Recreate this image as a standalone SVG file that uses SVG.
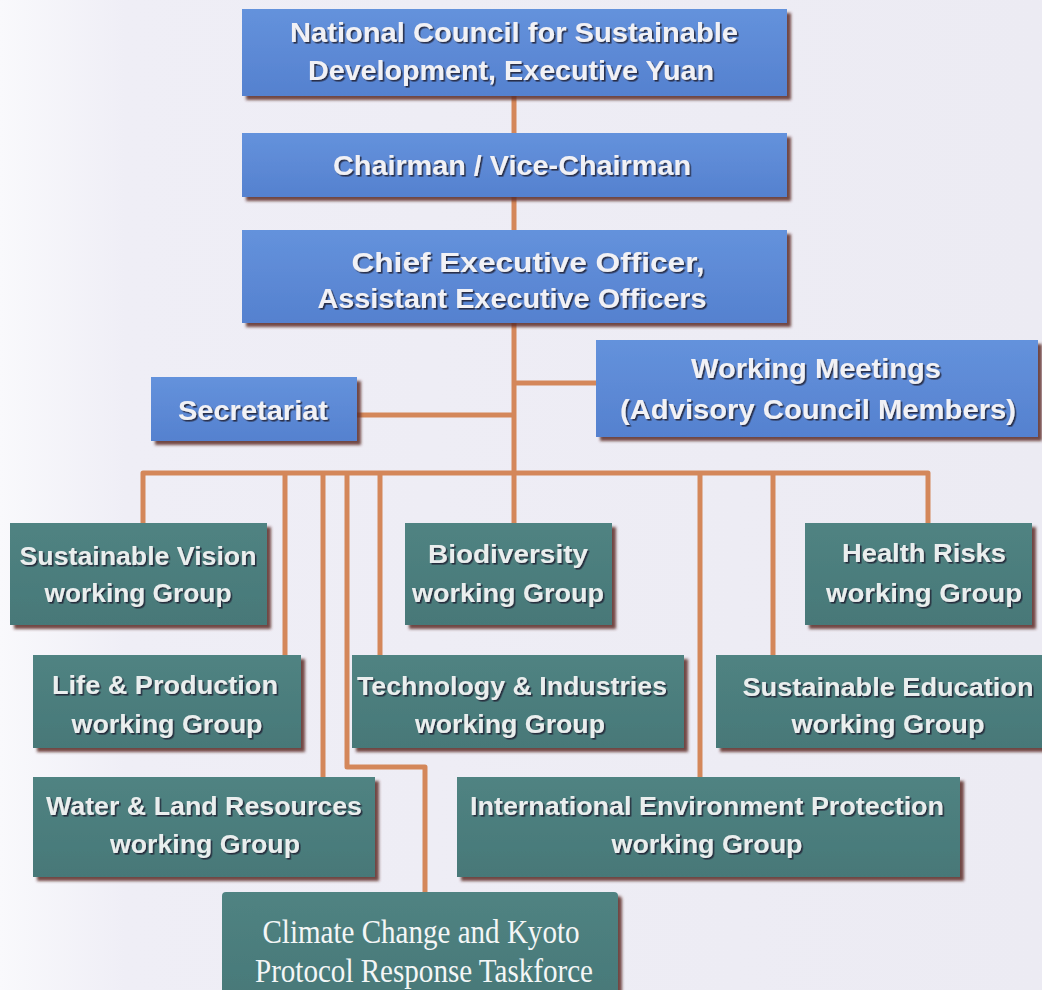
<svg xmlns="http://www.w3.org/2000/svg" width="1042" height="990" viewBox="0 0 1042 990">
  <defs>
    <linearGradient id="paper" x1="0" y1="0" x2="1" y2="0">
      <stop offset="0" stop-color="#f9f9fc"/>
      <stop offset="0.12" stop-color="#efeef6"/>
      <stop offset="1" stop-color="#ecebf3"/>
    </linearGradient>
    <linearGradient id="blueFill" x1="0" y1="0" x2="0" y2="1">
      <stop offset="0" stop-color="#6492dc"/>
      <stop offset="1" stop-color="#5581cf"/>
    </linearGradient>
    <linearGradient id="tealFill" x1="0" y1="0" x2="0" y2="1">
      <stop offset="0" stop-color="#508382"/>
      <stop offset="1" stop-color="#477878"/>
    </linearGradient>
    <filter id="boxShadow" x="-5%" y="-5%" width="115%" height="125%">
      <feDropShadow dx="4" dy="4" stdDeviation="1.4" flood-color="#5c2a26" flood-opacity="0.85"/>
    </filter>
    <filter id="textShadow" x="-5%" y="-20%" width="115%" height="150%">
      <feDropShadow dx="1.6" dy="1.6" stdDeviation="0.6" flood-color="#1d2333" flood-opacity="0.85"/>
    </filter>
  </defs>
  <style>
    .blue { fill: url(#blueFill); filter: url(#boxShadow); }
    .teal { fill: url(#tealFill); filter: url(#boxShadow); }
    .tb { font-family: "Liberation Sans Narrow", "Liberation Sans", Arial, sans-serif; font-weight: bold; font-size: 27px; fill: #f1f1f5; text-anchor: middle; filter: url(#textShadow); }
    .tg { font-family: "Liberation Sans", Arial, sans-serif; font-weight: bold; font-size: 26px; fill: #eaeeee; text-anchor: middle; filter: url(#textShadow); }
    .ts { font-family: "Liberation Serif", "Times New Roman", serif; font-size: 34px; fill: #f4f6f6; text-anchor: middle; }
    .link { fill: none; stroke: #d4875a; stroke-width: 5; stroke-linejoin: round; }
  </style>

  <rect width="1042" height="990" fill="url(#paper)"/>

  <!-- organisation links -->
  <g id="connectors" class="link">
    <path d="M514 96 V133"/>
    <path d="M514 197 V230"/>
    <path d="M514 323 V473"/>
    <path d="M357 415 H514"/>
    <path d="M514 383 H596"/>
    <path d="M143 523 V473 H928 V523"/>
    <path d="M285 473 V655"/>
    <path d="M323 473 V777"/>
    <path d="M347 473 V767 H425 V892"/>
    <path d="M380 473 V655"/>
    <path d="M514 473 V523"/>
    <path d="M700 473 V777"/>
    <path d="M773 473 V655"/>
  </g>

  <!-- leadership -->
  <g id="council">
    <rect class="blue" x="242" y="9" width="545" height="87"/>
    <text class="tb" x="514" y="42" textLength="448" lengthAdjust="spacingAndGlyphs">National Council for Sustainable</text>
    <text class="tb" x="511" y="80" textLength="406" lengthAdjust="spacingAndGlyphs">Development, Executive Yuan</text>
  </g>
  <g id="chairman">
    <rect class="blue" x="242" y="133" width="545" height="64"/>
    <text class="tb" x="512" y="175" textLength="358" lengthAdjust="spacingAndGlyphs">Chairman / Vice-Chairman</text>
  </g>
  <g id="ceo">
    <rect class="blue" x="242" y="230" width="545" height="93"/>
    <text class="tb" x="528" y="272" textLength="353" lengthAdjust="spacingAndGlyphs">Chief Executive Officer,</text>
    <text class="tb" x="512" y="308" textLength="389" lengthAdjust="spacingAndGlyphs">Assistant Executive Officers</text>
  </g>
  <g id="working-meetings">
    <rect class="blue" x="596" y="340" width="442" height="97"/>
    <text class="tb" x="816" y="378" textLength="250" lengthAdjust="spacingAndGlyphs">Working Meetings</text>
    <text class="tb" x="818" y="419" textLength="396" lengthAdjust="spacingAndGlyphs">(Advisory Council Members)</text>
  </g>
  <g id="secretariat">
    <rect class="blue" x="151" y="377" width="206" height="64"/>
    <text class="tb" x="253" y="420" textLength="150" lengthAdjust="spacingAndGlyphs">Secretariat</text>
  </g>

  <!-- working groups -->
  <g id="wg-vision">
    <rect class="teal" x="10" y="523" width="257" height="102"/>
    <text class="tg" x="138" y="565" textLength="237" lengthAdjust="spacingAndGlyphs">Sustainable Vision</text>
    <text class="tg" x="138" y="602" textLength="187" lengthAdjust="spacingAndGlyphs">working Group</text>
  </g>
  <g id="wg-biodiversity">
    <rect class="teal" x="405" y="523" width="207" height="102"/>
    <text class="tg" x="508" y="563" textLength="160" lengthAdjust="spacingAndGlyphs">Biodiversity</text>
    <text class="tg" x="508" y="602" textLength="192" lengthAdjust="spacingAndGlyphs">working Group</text>
  </g>
  <g id="wg-health">
    <rect class="teal" x="805" y="523" width="227" height="102"/>
    <text class="tg" x="924" y="562" textLength="164" lengthAdjust="spacingAndGlyphs">Health Risks</text>
    <text class="tg" x="924" y="602" textLength="196" lengthAdjust="spacingAndGlyphs">working Group</text>
  </g>
  <g id="wg-life">
    <rect class="teal" x="33" y="655" width="268" height="93"/>
    <text class="tg" x="165" y="694" textLength="226" lengthAdjust="spacingAndGlyphs">Life &amp; Production</text>
    <text class="tg" x="167" y="733" textLength="191" lengthAdjust="spacingAndGlyphs">working Group</text>
  </g>
  <g id="wg-technology">
    <rect class="teal" x="352" y="655" width="332" height="93"/>
    <text class="tg" x="512" y="695" textLength="310" lengthAdjust="spacingAndGlyphs">Technology &amp; Industries</text>
    <text class="tg" x="510" y="733" textLength="190" lengthAdjust="spacingAndGlyphs">working Group</text>
  </g>
  <g id="wg-education">
    <rect class="teal" x="716" y="655" width="330" height="93"/>
    <text class="tg" x="888" y="696" textLength="291" lengthAdjust="spacingAndGlyphs">Sustainable Education</text>
    <text class="tg" x="888" y="733" textLength="193" lengthAdjust="spacingAndGlyphs">working Group</text>
  </g>
  <g id="wg-water">
    <rect class="teal" x="33" y="777" width="342" height="100"/>
    <text class="tg" x="204" y="815" textLength="316" lengthAdjust="spacingAndGlyphs">Water &amp; Land Resources</text>
    <text class="tg" x="205" y="853" textLength="190" lengthAdjust="spacingAndGlyphs">working Group</text>
  </g>
  <g id="wg-international">
    <rect class="teal" x="457" y="777" width="503" height="100"/>
    <text class="tg" x="707" y="815" textLength="474" lengthAdjust="spacingAndGlyphs">International Environment Protection</text>
    <text class="tg" x="707" y="853" textLength="191" lengthAdjust="spacingAndGlyphs">working Group</text>
  </g>
  <g id="taskforce-climate">
    <rect class="teal" x="222" y="892" width="396" height="112" rx="4"/>
    <text class="ts" x="421" y="943" textLength="317" lengthAdjust="spacingAndGlyphs">Climate Change and Kyoto</text>
    <text class="ts" x="424" y="982" textLength="338" lengthAdjust="spacingAndGlyphs">Protocol Response Taskforce</text>
  </g>
</svg>
